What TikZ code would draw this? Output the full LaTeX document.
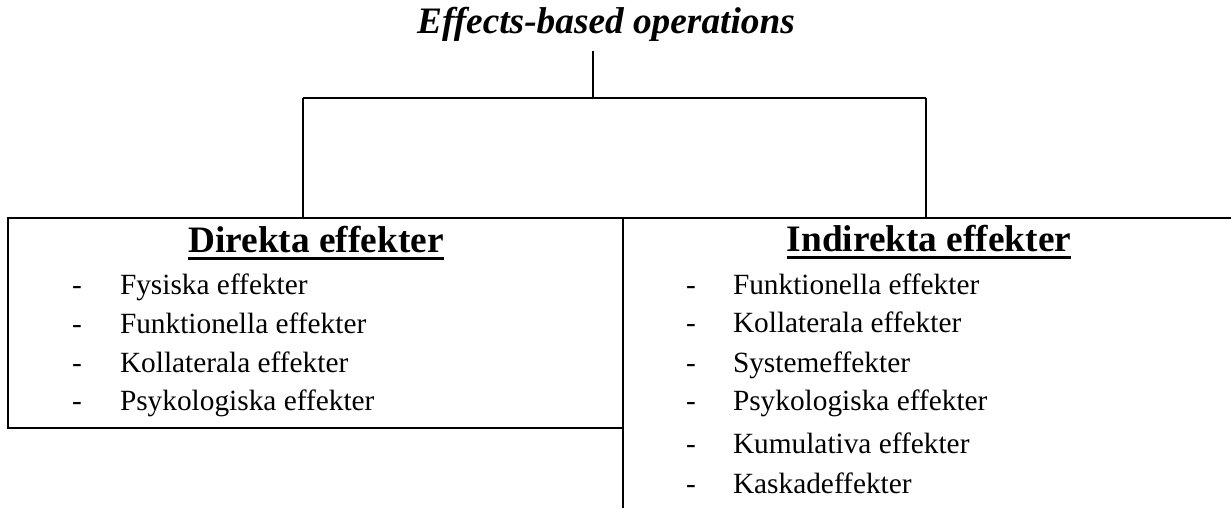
\documentclass[tikz,border=0pt]{standalone}
\usepackage{fontspec}
\setmainfont{Liberation Serif}
\usetikzlibrary{positioning}

\begin{document}
\begin{tikzpicture}[x=0.75pt,y=-0.75pt,line width=1.5pt,
  every node/.style={inner sep=0pt,outer sep=0pt},
  titel/.style={font=\fontsize{28}{34}\selectfont\bfseries\itshape,anchor=base},
  rubrik/.style={font=\fontsize{28}{34}\selectfont\bfseries,anchor=base},
  punkt/.style={font=\fontsize{22}{26}\selectfont,anchor=base west},
  understruk/.style={line width=2.4pt}]
  \useasboundingbox (0,0) rectangle (1231,508);
  \node [titel] (ebo) at (606,33) {Effects-based operations};
  \coordinate (navtopp) at (593,51);
  \coordinate (nav) at (593,98);
  \coordinate (vnav) at (303,98);
  \coordinate (hnav) at (926,98);
  \coordinate (vhorn) at (8,218);
  \coordinate (mitt) at (623,218);
  \coordinate (hhorn) at (1231,218);
  \coordinate (vbotten) at (8,428);
  \coordinate (mbotten) at (623,428);
  \coordinate (mslut) at (623,508);
  \node [rubrik] (dir) at (316,252) {Direkta effekter};
  \node [rubrik] (ind) at (929,251) {Indirekta effekter};

  \draw (navtopp) -- (nav);
  \draw (vnav) -- (hnav);
  \draw (vnav) -- (vnav |- mitt);
  \draw (hnav) -- (hnav |- mitt);
  \draw (mbotten) -- (vbotten) -- (vhorn) -- (hhorn);
  \draw (mitt) -- (mslut);
  \draw [understruk] ([yshift=-5pt]dir.base west) -- ([yshift=-5pt]dir.base east);
  \draw [understruk] ([yshift=-5pt]ind.base west) -- ([yshift=-5pt]ind.base east);

  \foreach \n/\y/\t in {1/294/Fysiska effekter, 2/333/Funktionella effekter,
      3/372/Kollaterala effekter, 4/410/Psykologiska effekter} {
    \node [punkt] (dstreck\n) at (72,\y) {-};
    \node [punkt] (d\n) at (120,\y) {\t};
  }
  \foreach \n/\y/\t in {1/294/Funktionella effekter, 2/332/Kollaterala effekter,
      3/372/Systemeffekter, 4/410/Psykologiska effekter,
      5/453/Kumulativa effekter, 6/493/Kaskadeffekter} {
    \node [punkt] (istreck\n) at (686,\y) {-};
    \node [punkt] (i\n) at (733,\y) {\t};
  }
\end{tikzpicture}
\end{document}
